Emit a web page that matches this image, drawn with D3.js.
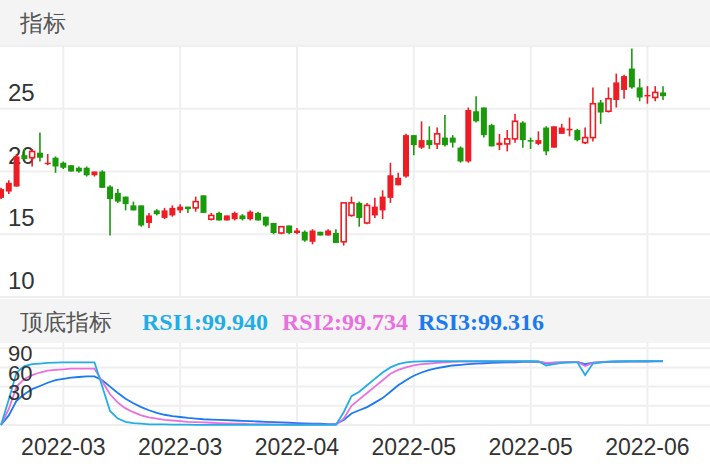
<!DOCTYPE html>
<html><head><meta charset="utf-8">
<script src="https://cdn.jsdelivr.net/npm/d3@7/dist/d3.min.js"></script>
<style>body{margin:0;background:#fff}svg{display:block}</style>
</head><body>
<svg id="c" width="710" height="472"></svg>
<script>
const opens=[17.9,18.4,18.8,21.3,21.1,21.5,20.6,21.1,20.7,20.5,20.3,20.3,19.7,20.0,18.8,18.3,18.0,17.3,17.3,15.9,16.9,16.3,16.5,16.9,17.2,17.1,18.1,16.2,16.7,16.1,16.2,16.5,16.2,16.7,16.4,15.9,15.1,15.7,15.1,15.2,14.4,15.2,14.9,15.1,14.4,16.5,17.5,15.9,16.5,16.9,17.9,18.9,19.6,22.9,21.9,22.5,22.2,22.7,22.7,21.9,20.8,24.8,25.1,23.7,22.1,22.2,22.6,23.9,22.5,22.2,23.5,21.9,23.0,23.3,23.3,22.3,22.7,25.5,24.8,25.7,26.5,28.2,26.7,26.0,25.9,26.3];
const closes=[18.6,19.1,21.2,21.0,21.6,21.1,20.7,20.4,20.3,20.0,20.0,19.7,20.0,18.7,17.8,17.6,17.4,16.9,15.7,16.5,16.6,16.9,17.1,17.2,17.0,17.6,16.7,16.5,16.1,16.5,16.7,16.2,16.8,16.1,15.7,15.1,15.6,15.1,15.3,14.5,15.3,14.9,15.3,14.3,17.5,17.5,16.3,17.3,17.2,18.0,19.7,19.5,22.9,22.1,22.5,22.1,23.0,22.1,22.3,20.8,24.9,24.0,22.9,22.0,22.3,22.6,24.0,22.5,22.4,22.5,21.6,23.6,23.5,23.4,22.5,22.7,25.4,24.7,25.8,27.1,27.6,26.7,25.9,26.1,26.3,26.0];
const highs=[18.7,19.3,21.4,21.8,21.8,23.1,21.4,21.2,20.8,20.5,20.4,20.4,20.0,20.1,18.9,18.6,18.0,17.6,17.3,16.7,17.0,17.1,17.3,17.4,17.2,18.0,18.1,16.7,16.8,16.5,16.8,16.6,16.9,16.8,16.4,15.9,15.6,15.7,15.5,15.3,15.4,15.2,15.4,15.4,17.5,18.0,17.6,17.5,17.9,18.5,20.7,19.9,23.0,22.9,24.0,23.6,23.5,24.5,22.9,22.0,25.1,26.0,25.1,23.8,23.0,23.3,24.6,24.0,22.7,23.2,23.6,23.6,23.8,24.3,23.4,23.5,26.7,25.7,26.7,27.8,27.7,29.8,27.4,26.8,26.8,26.8];
const lows=[17.8,18.2,18.8,20.9,20.4,20.8,20.5,19.9,20.2,20.0,19.9,19.6,19.6,18.7,14.9,17.5,16.9,16.9,15.6,15.5,16.5,16.2,16.4,16.7,16.7,16.8,16.7,16.1,16.1,16.1,16.1,16.1,16.1,16.1,15.6,15.0,15.0,15.0,15.0,14.4,14.2,14.9,14.9,14.3,14.1,16.4,15.6,15.8,16.3,16.2,17.5,18.9,19.5,21.3,21.8,21.8,21.8,22.0,21.9,20.7,20.7,23.9,22.7,22.0,21.7,21.6,22.3,21.9,21.8,22.1,21.3,21.9,23.0,22.8,22.4,22.2,22.4,23.8,24.7,25.1,25.8,26.6,25.6,25.4,25.6,25.7];
const hollowIdx=[4,25,27,36,44,45,47,56,65,66,75,76,78,84];
const rsi1=[0,40,82,92,95,96,97,97.5,98,98, 98,98,98,60,22,10,5,3,2,1, 1,1,0.5,0.5,0.5,0.3,0.3,0.3,0.2,0.2, 0.2,0.2,0.1,0.1,0.1,0.1,0.1,0.1,0.1,0.1, 0.1,0.1,0.1,0.1,20,45,52,62,72,82, 90,95,98,99,99.5,99.6,99.6,99.7,99.7,99.7, 99.7,99.7,99.7,99.7,99.7,99.7,99.7,99.7,99.7,99.5, 93,95,97,98,98,78,96,98,99,99.5, 99.6,99.7,99.8,99.8,99.9,99.94];
const rsi2=[0,25,60,72,78,82,85,86,87,88, 88,88,88,68,48,35,26,20,15,12, 10,8,7,6,5,4.5,4,3.5,3,2.5, 2,2,1.5,1.5,1.2,1,1,0.8,0.7,0.6, 0.5,0.5,0.5,0.5,10,30,40,50,60,70, 80,86,90,93,95,96,97,98,98.5,99, 99,99.2,99.3,99.4,99.4,99.5,99.5,99.5,99.5,99.4, 97,97.5,98,98.5,98.5,92,97,98.5,99,99.3, 99.4,99.5,99.6,99.6,99.7,99.734];
const rsi3=[0,15,38,48,56,61,66,70,72,74, 75,76,76,70,60,50,41,34,28,23, 19,16,14,12.5,11,10,9,8.5,8,7.5, 7,6.5,6,5.5,5,4.5,4,3.5,3,2.5, 2,2,1.5,1.5,8,18,23,28,35,42, 52,62,70,77,82,86,89,91,93,94, 95,96,96.5,97,97.5,98,98,98.5,98.5,98.5, 96.5,97.5,98,98,98.5,95,97.5,98,98.5,98.8, 99,99.1,99.2,99.2,99.3,99.316];
const xTickIdx=[8,23,38,53,68,83];
const xTickLabels=["2022-03","2022-03","2022-04","2022-05","2022-05","2022-06"];
const priceTicks=[10,15,20,25,30];
const rsiTicks=[0,30,60,90,120];
const rsiLabels=[30,60,90];

const svg=d3.select("#c");
const font="'Liberation Sans', Arial, sans-serif";
const grid="#efefef", up="#ee1c24", down="#1a9a0a";
const x=d3.scaleLinear().domain([0,85]).range([1,663]);
const y=d3.scaleLinear().domain([10,30]).range([297,46]);
const yr=d3.scaleLinear().domain([0,100]).range([425,361]);

svg.append("rect").attr("x",0).attr("y",0).attr("width",710).attr("height",45).attr("fill","#f4f4f4");
svg.append("rect").attr("x",0).attr("y",299).attr("width",710).attr("height",44).attr("fill","#f4f4f4");
svg.append("text").attr("x",20).attr("y",31).attr("font-family",font).attr("font-size",23).attr("fill","#555").text("指标");
svg.append("text").attr("x",20).attr("y",330).attr("font-family",font).attr("font-size",23).attr("fill","#555").text("顶底指标");
const leg=[["RSI1:99.940","#22ade6",142],["RSI2:99.734","#ea6fe0",282],["RSI3:99.316","#1a7af2",418]];
leg.forEach(l=>svg.append("text").attr("x",l[2]).attr("y",330).attr("font-family","'Liberation Serif', serif").attr("font-weight","bold").attr("font-size",23).attr("textLength",126).attr("lengthAdjust","spacingAndGlyphs").attr("fill",l[1]).text(l[0]));

const gx=xTickIdx.map(i=>x(i));
svg.append("g").selectAll("line").data(priceTicks).join("line").attr("x1",0).attr("x2",710).attr("y1",d=>y(d)).attr("y2",d=>y(d)).attr("stroke",grid).attr("stroke-width",2);
svg.append("g").selectAll("line").data(gx).join("line").attr("x1",d=>d).attr("x2",d=>d).attr("y1",45).attr("y2",298).attr("stroke",grid).attr("stroke-width",2);
svg.append("g").selectAll("line").data(rsiTicks).join("line").attr("x1",0).attr("x2",710).attr("y1",d=>yr(d)).attr("y2",d=>yr(d)).attr("stroke",grid).attr("stroke-width",2);
svg.append("g").selectAll("line").data(gx).join("line").attr("x1",d=>d).attr("x2",d=>d).attr("y1",343).attr("y2",426).attr("stroke",grid).attr("stroke-width",2);

svg.append("g").selectAll("text").data(priceTicks.slice(0,4)).join("text").attr("x",8).attr("y",d=>y(d)-8).attr("font-family",font).attr("font-size",24).attr("fill","#333").text(d=>d);

const data=opens.map((o,i)=>({i,o,c:closes[i],h:highs[i],l:lows[i],hol:hollowIdx.includes(i)}));
const g=svg.append("g");
data.forEach(d=>{
  const col=d.c>=d.o?up:down, cx=x(d.i);
  const top=y(Math.max(d.o,d.c)), bot=y(Math.min(d.o,d.c));
  g.append("line").attr("x1",cx).attr("x2",cx).attr("y1",y(d.h)).attr("y2",y(d.l)).attr("stroke",col).attr("stroke-width",1.6);
  if(d.hol){
    g.append("rect").attr("x",cx-2.5).attr("y",top).attr("width",5).attr("height",Math.max(1,bot-top)).attr("fill","#fff").attr("stroke",col).attr("stroke-width",1.6);
  } else {
    g.append("rect").attr("x",cx-3).attr("y",top).attr("width",6).attr("height",Math.max(1.5,bot-top)).attr("fill",col);
  }
});

const line=d3.line().x((d,i)=>x(i)).y(d=>yr(d));
[[rsi3,"#1a7af2"],[rsi2,"#ea6fe0"],[rsi1,"#22ade6"]].forEach(s=>svg.append("path").attr("d",line(s[0])).attr("fill","none").attr("stroke",s[1]).attr("stroke-width",1.8));
svg.append("g").selectAll("text").data(rsiLabels).join("text").attr("x",8).attr("y",d=>yr(d)-6).attr("font-family",font).attr("font-size",22).attr("fill","#333").text(d=>d);

svg.append("g").selectAll("text").data(xTickIdx).join("text").attr("x",d=>x(d)).attr("y",455).attr("text-anchor","middle").attr("font-family",font).attr("font-size",23).attr("fill","#333").text((d,i)=>xTickLabels[i]);
</script>
</body></html>
